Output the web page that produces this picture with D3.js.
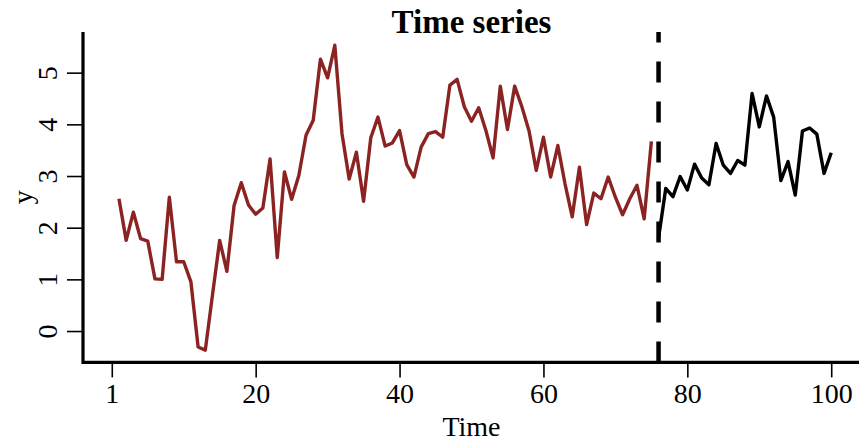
<!DOCTYPE html>
<html>
<head>
<meta charset="utf-8">
<script src="https://cdn.jsdelivr.net/npm/d3@7"></script>
<style>
  html, body { margin: 0; padding: 0; background: #fff; }
  svg { display: block; }
  text { font-family: "Liberation Serif", "DejaVu Serif", serif; fill: #000; }
</style>
</head>
<body>
<svg id="chart" width="859" height="441"></svg>
<script>
// Observed part of the series (t = 1..75)
const historyValues = [
  2.56, 1.755, 2.30, 1.79, 1.74, 1.01, 1.00, 2.59, 1.34, 1.34,
  0.95, -0.31, -0.37, 0.70, 1.755, 1.155, 2.43, 2.87, 2.44, 2.26,
  2.38, 3.33, 1.42, 3.08, 2.55, 3.01, 3.79, 4.08, 5.26, 4.90,
  5.53, 3.82, 2.94, 3.46, 2.51, 3.74, 4.14, 3.58, 3.64, 3.88,
  3.22, 2.98, 3.56, 3.82, 3.86, 3.75, 4.76, 4.87, 4.34, 4.06,
  4.32, 3.88, 3.35, 4.74, 3.90, 4.74, 4.34, 3.87, 3.11, 3.75,
  2.98, 3.59, 2.85, 2.21, 3.17, 2.06, 2.67, 2.56, 2.98, 2.59,
  2.25, 2.56, 2.82, 2.17, 3.67
];
const historyStart = 1;

// Continuation after the break (t = 76..100)
const futureValues = [
  1.80, 2.76, 2.60, 2.99, 2.73, 3.23, 2.96, 2.83, 3.63, 3.21,
  3.05, 3.30, 3.21, 4.60, 3.95, 4.55, 4.14, 2.91, 3.28, 2.63,
  3.87, 3.93, 3.81, 3.05, 3.45
];
const futureStart = 76;

// Time at which the vertical dashed marker is drawn
const breakTime = 76;

// Axis ticks
const xTickValues = [0, 20, 40, 60, 80, 100];
const xTickLabels = ["1", "20", "40", "60", "80", "100"];
const yTickValues = [0, 1, 2, 3, 4, 5];

const titleText = "Time series";
const xLabel = "Time";
const yLabel = "y";

// ---- layout ----
const width = 859, height = 441;
const plot = { left: 83, right: 860, top: 32, bottom: 362.4 };

const svg = d3.select("#chart");

const x = d3.scaleLinear().domain([-4, 104]).range([plot.left, plot.right]);
const y = d3.scaleLinear().domain([-0.607, 5.787]).range([plot.bottom, plot.top]);

const history = historyValues.map((v, i) => ({ t: historyStart + i, v }));
const future = futureValues.map((v, i) => ({ t: futureStart + i, v }));

const line = d3.line().x(d => x(d.t)).y(d => y(d.v));

// series lines
svg.append("path")
  .datum(history)
  .attr("d", line)
  .attr("fill", "none")
  .attr("stroke", "#8b2323")
  .attr("stroke-width", 3.4)
  .attr("stroke-linejoin", "round");

svg.append("path")
  .datum(future)
  .attr("d", line)
  .attr("fill", "none")
  .attr("stroke", "#000")
  .attr("stroke-width", 3.4)
  .attr("stroke-linejoin", "round");

// dashed vertical marker, drawn upward from the bottom of the plot
svg.append("line")
  .attr("x1", x(breakTime)).attr("x2", x(breakTime))
  .attr("y1", y.range()[0]).attr("y2", y.range()[1])
  .attr("stroke", "#000")
  .attr("stroke-width", 4.5)
  .attr("stroke-dasharray", "21,19");

// axes
const xAxis = d3.axisBottom(x)
  .tickValues(xTickValues)
  .tickFormat((d, i) => xTickLabels[i])
  .tickSize(15)
  .tickPadding(6);

const gx = svg.append("g")
  .attr("transform", `translate(0,${plot.bottom})`)
  .call(xAxis);
gx.select(".domain").remove();
gx.selectAll(".tick line").attr("stroke", "#000").attr("stroke-width", 1.6);
gx.selectAll(".tick text")
  .attr("font-size", 28)
  .attr("font-family", "Liberation Serif, serif")
  .attr("fill", "#000");

const yAxis = d3.axisLeft(y)
  .tickValues(yTickValues)
  .tickFormat(d3.format("d"))
  .tickSize(16)
  .tickPadding(6);

const gy = svg.append("g")
  .attr("transform", `translate(${plot.left},0)`)
  .call(yAxis);
gy.select(".domain").remove();
gy.selectAll(".tick line").attr("stroke", "#000").attr("stroke-width", 1.6);
gy.selectAll(".tick text")
  .attr("font-size", 28)
  .attr("font-family", "Liberation Serif, serif")
  .attr("fill", "#000")
  .attr("text-anchor", "middle")
  .attr("dy", null)
  .attr("x", null)
  .attr("transform", "translate(-36,0) rotate(-90)")
  .attr("dominant-baseline", "central");

// L-shaped frame: left and bottom axis lines
svg.append("path")
  .attr("d", `M${plot.left},${plot.top} V${plot.bottom} H${width}`)
  .attr("fill", "none")
  .attr("stroke", "#000")
  .attr("stroke-width", 3.2);

// title and axis labels
const cx = (plot.left + plot.right) / 2;
svg.append("text")
  .attr("x", cx).attr("y", 33)
  .attr("text-anchor", "middle")
  .attr("font-size", 33)
  .attr("font-weight", "bold")
  .text(titleText);

svg.append("text")
  .attr("x", cx).attr("y", 436)
  .attr("text-anchor", "middle")
  .attr("font-size", 28)
  .text(xLabel);

svg.append("text")
  .attr("transform", `translate(32,${(plot.top + plot.bottom) / 2}) rotate(-90)`)
  .attr("text-anchor", "middle")
  .attr("font-size", 28)
  .text(yLabel);
</script>
</body>
</html>
